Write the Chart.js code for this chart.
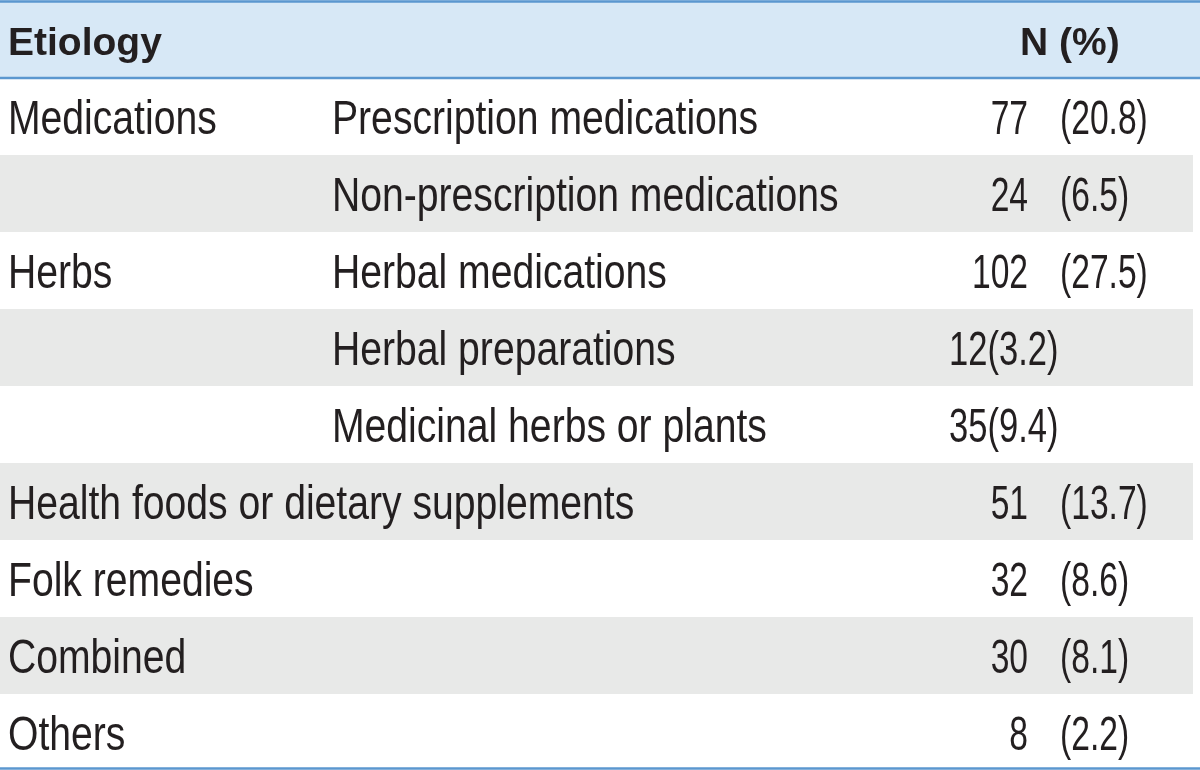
<!DOCTYPE html>
<html>
<head>
<meta charset="utf-8">
<script src="https://cdn.jsdelivr.net/npm/chart.js@4/dist/chart.umd.min.js"></script>
<style>
  html, body { margin: 0; padding: 0; background: #ffffff; }
  #wrap { width: 1200px; height: 770px; position: relative; }
</style>
</head>
<body>
<div id="wrap"><canvas id="c" width="1200" height="770"></canvas></div>
<script>
// ---- data ----
const headers = ['Etiology', 'N (%)'];
const groups = ['Medications', '', 'Herbs', '', '', 'Health foods or dietary supplements', 'Folk remedies', 'Combined', 'Others'];
const subtypes = ['Prescription medications', 'Non-prescription medications', 'Herbal medications', 'Herbal preparations', 'Medicinal herbs or plants', '', '', '', ''];
const counts = [77, 24, 102, 12, 35, 51, 32, 30, 8];
const percents = ['20.8', '6.5', '27.5', '3.2', '9.4', '13.7', '8.6', '8.1', '2.2'];
const compactFormat = [false, false, false, true, true, false, false, false, false];

const rowLabels = ['header'].concat(counts.map((_, i) => 'row' + i));

const BODY_FONT = '48px "Liberation Sans", Arial, sans-serif';
const HEAD_FONT = 'bold 39px "Liberation Sans", Arial, sans-serif';
const TEXT_COLOR = '#231f20';
const NARROW = 0.815;
const NUM_NARROW = 0.7;

function txt(ctx, s, x, y, align, sx) {
  ctx.save();
  ctx.translate(x, y);
  ctx.scale(sx, 1);
  ctx.textAlign = align;
  ctx.fillText(s, 0, 0);
  ctx.restore();
}

const tablePlugin = {
  id: 'tablePlugin',
  beforeDraw(chart) {
    const ctx = chart.ctx;
    const y = chart.scales.y;
    const W = chart.width;
    const half = (y.getPixelForValue(1) - y.getPixelForValue(0)) / 2;
    ctx.save();
    ctx.fillStyle = '#ffffff';
    ctx.fillRect(0, 0, W, chart.height);
    const hc = y.getPixelForValue(0);
    ctx.fillStyle = '#d7e8f6';
    ctx.fillRect(0, 0, W, hc + half + 1);
    for (let i = 0; i < counts.length; i++) {
      if (i % 2 === 1) {
        const c = y.getPixelForValue(i + 1);
        ctx.fillStyle = '#e8e9e8';
        ctx.fillRect(0, c - half + 1, 1193, 2 * half);
      }
    }
    ctx.restore();
  },
  afterDraw(chart) {
    const ctx = chart.ctx;
    const y = chart.scales.y;
    const W = chart.width;
    const half = (y.getPixelForValue(1) - y.getPixelForValue(0)) / 2;
    ctx.save();
    ctx.fillStyle = TEXT_COLOR;
    ctx.textBaseline = 'alphabetic';
    const hc = y.getPixelForValue(0);
    ctx.font = HEAD_FONT;
    txt(ctx, headers[0], 8, hc + 16, 'left', 1);
    txt(ctx, headers[1], 1020, hc + 16, 'left', 1);
    ctx.font = BODY_FONT;
    for (let i = 0; i < counts.length; i++) {
      const c = y.getPixelForValue(i + 1);
      const base = c + 18;
      if (groups[i]) txt(ctx, groups[i], 8, base, 'left', NARROW);
      if (subtypes[i]) txt(ctx, subtypes[i], 332, base, 'left', NARROW);
      if (compactFormat[i]) {
        txt(ctx, counts[i] + '(' + percents[i] + ')', 949, base, 'left', 0.72);
      } else {
        txt(ctx, String(counts[i]), 1028, base, 'right', NUM_NARROW);
        txt(ctx, '(' + percents[i] + ')', 1060, base, 'left', NUM_NARROW);
      }
    }
    ctx.strokeStyle = '#5b97cf';
    ctx.lineWidth = 2.5;
    const lines = [1.5, hc + half + 1, y.getPixelForValue(counts.length) + half - 1.5];
    lines.forEach(ly => {
      ctx.beginPath();
      ctx.moveTo(0, ly);
      ctx.lineTo(W, ly);
      ctx.stroke();
    });
    ctx.restore();
  }
};

new Chart(document.getElementById('c'), {
  type: 'bar',
  data: {
    labels: rowLabels,
    datasets: [{
      label: 'N',
      data: [null].concat(counts),
      backgroundColor: 'rgba(0,0,0,0)',
      borderWidth: 0
    }]
  },
  options: {
    indexAxis: 'y',
    responsive: false,
    animation: false,
    devicePixelRatio: 1,
    layout: { padding: 0 },
    plugins: { legend: { display: false }, tooltip: { enabled: false } },
    scales: {
      y: { type: 'category', display: false, offset: true },
      x: { type: 'linear', display: false, min: 0, max: 110 }
    }
  },
  plugins: [tablePlugin]
});
</script>
</body>
</html>
